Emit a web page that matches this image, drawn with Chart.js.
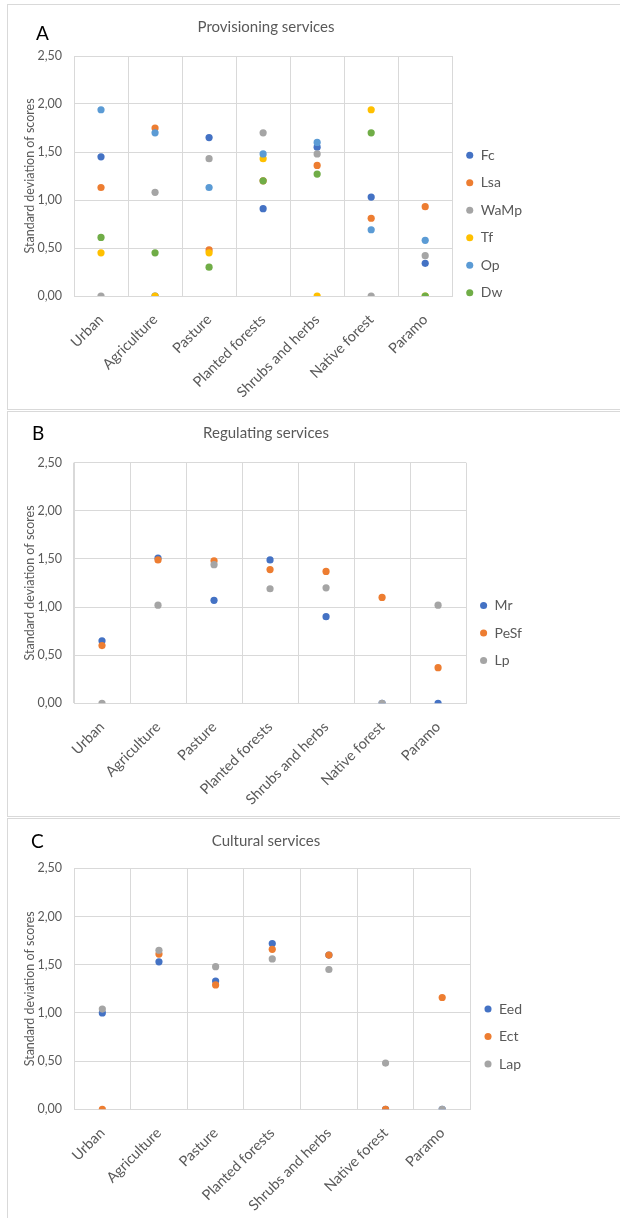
<!DOCTYPE html>
<html>
<head>
<meta charset="utf-8">
<script src="https://cdn.jsdelivr.net/npm/chart.js@4.4.1/dist/chart.umd.min.js"></script>
<style>
  body { margin: 0; background: #fff; width: 620px; height: 1218px; position: relative; overflow: hidden; font-family: Lato, sans-serif; }
  .panel { position: absolute; left: 7px; width: 700px; border: 1px solid #d9d9d9; box-sizing: border-box; }
  .tag { position: absolute; font-family: Lato, sans-serif; font-size: 19px; line-height: 19px; color: #000; }
  canvas { position: absolute; left: 0; }
</style>
</head>
<body>
<div class="panel" style="top:4px; height:406px;"></div>
<div class="panel" style="top:411px; height:406px;"></div>
<div class="panel" style="top:818px; height:500px;"></div>

<canvas id="provisioning" width="620" height="410" style="top:0px;"></canvas>
<canvas id="regulating" width="620" height="408" style="top:410px;"></canvas>
<canvas id="cultural" width="620" height="401" style="top:817px;"></canvas>

<div class="tag" style="left:36px; top:23px;">A</div>
<div class="tag" style="left:32px; top:423px;">B</div>
<div class="tag" style="left:31px; top:831px;">C</div>

<script>
const landCovers = ['Urban', 'Agriculture', 'Pasture', 'Planted forests', 'Shrubs and herbs', 'Native forest', 'Paramo'];
const yTicks = [0, 0.5, 1, 1.5, 2, 2.5];

// A - provisioning services
const fc   = [1.45, 0, 1.65, 0.91, 1.55, 1.03, 0.34];
const lsa  = [1.13, 1.75, 0.48, 1.20, 1.36, 0.81, 0.93];
const waMp = [0, 1.08, 1.43, 1.70, 1.48, 0, 0.42];
const tf   = [0.45, 0, 0.45, 1.43, 0, 1.94, 0];
const op   = [1.94, 1.70, 1.13, 1.48, 1.60, 0.69, 0.58];
const dw   = [0.61, 0.45, 0.30, 1.20, 1.27, 1.70, 0];

// B - regulating services
const mr   = [0.65, 1.51, 1.07, 1.49, 0.90, 0, 0];
const peSf = [0.60, 1.49, 1.48, 1.39, 1.37, 1.10, 0.37];
const lp   = [0, 1.02, 1.44, 1.19, 1.20, 0, 1.02];

// C - cultural services
const eed  = [1.00, 1.53, 1.33, 1.72, 1.60, 0, 0];
const ect  = [0, 1.61, 1.29, 1.66, 1.60, 0, 1.16];
const lap  = [1.04, 1.65, 1.48, 1.56, 1.45, 0.48, 0];

const BLUE = '#4472C4', ORANGE = '#ED7D31', GREY = '#A5A5A5', GOLD = '#FFC000', LIGHTBLUE = '#5B9BD5', GREEN = '#70AD47';
const GRID = '#d9d9d9';
const TEXT = '#595959';
const FONT = 'Lato';

// the legend sits in the space under the title, so push it down a little
const legendShift = {
  id: 'legendShift',
  afterLayout(chart, args, opts) {
    const legend = chart.legend;
    if (!legend) return;
    legend.top += opts.dy;
    legend.bottom += opts.dy;
  }
};

function drawPanel(id, cfg) {
  // later series get a lower order so they are painted on top
  const datasets = cfg.series.map((s, i) => ({
    label: s.name,
    data: s.values,
    backgroundColor: s.color,
    borderColor: s.color,
    borderWidth: 0,
    showLine: false,
    pointRadius: 3.6,
    pointHoverRadius: 3.6,
    pointBorderWidth: 0,
    order: cfg.series.length - i
  }));

  new Chart(document.getElementById(id), {
    type: 'line',
    data: { labels: landCovers, datasets },
    plugins: [legendShift],
    options: {
      responsive: false,
      animation: false,
      events: [],
      layout: { padding: { left: 0, right: 88, top: 0, bottom: 0 } },
      plugins: {
        legendShift: { dy: 19 },
        title: {
          display: true,
          text: cfg.title,
          color: TEXT,
          font: { family: FONT, size: 15, weight: 'normal' },
          padding: cfg.titlePad
        },
        legend: {
          position: 'right',
          labels: {
            usePointStyle: true,
            pointStyle: 'circle',
            boxWidth: 8,
            boxHeight: 5,
            padding: 13.5,
            color: TEXT,
            font: { family: FONT, size: 14 },
            sort: (a, b) => a.datasetIndex - b.datasetIndex
          }
        },
        tooltip: { enabled: false }
      },
      scales: {
        x: {
          offset: true,
          grid: { offset: true, color: GRID, drawTicks: false },
          border: { color: GRID },
          ticks: {
            color: TEXT,
            font: { family: FONT, size: 14.5 },
            minRotation: 45,
            maxRotation: 45,
            autoSkip: false,
            padding: 15
          },
          afterFit: (scale) => { scale.height = cfg.xHeight; }
        },
        y: {
          min: 0,
          max: 2.5,
          afterBuildTicks: (scale) => { scale.ticks = yTicks.map(v => ({ value: v })); },
          ticks: {
            color: TEXT,
            font: { family: FONT, size: 12.5 },
            padding: 12,
            callback: (v) => Number(v).toFixed(2).replace('.', ',')
          },
          grid: { color: GRID, drawTicks: false },
          border: { color: GRID },
          title: {
            display: true,
            text: 'Standard deviation of scores',
            color: TEXT,
            font: { family: FONT, size: 12.5 },
            padding: { top: 22, bottom: 0 }
          },
          afterFit: (scale) => { scale.width = 74; }
        }
      }
    }
  });
}

drawPanel('provisioning', {
  title: 'Provisioning services',
  titlePad: { top: 18, bottom: 20 },
  xHeight: 114,
  series: [
    { name: 'Fc', values: fc, color: BLUE },
    { name: 'Lsa', values: lsa, color: ORANGE },
    { name: 'WaMp', values: waMp, color: GREY },
    { name: 'Tf', values: tf, color: GOLD },
    { name: 'Op', values: op, color: LIGHTBLUE },
    { name: 'Dw', values: dw, color: GREEN }
  ]
});

drawPanel('regulating', {
  title: 'Regulating services',
  titlePad: { top: 14, bottom: 20.7 },
  xHeight: 114.7,
  series: [
    { name: 'Mr', values: mr, color: BLUE },
    { name: 'PeSf', values: peSf, color: ORANGE },
    { name: 'Lp', values: lp, color: GREY }
  ]
});

drawPanel('cultural', {
  title: 'Cultural services',
  titlePad: { top: 14.7, bottom: 18.6 },
  xHeight: 108.7,
  series: [
    { name: 'Eed', values: eed, color: BLUE },
    { name: 'Ect', values: ect, color: ORANGE },
    { name: 'Lap', values: lap, color: GREY }
  ]
});
</script>
</body>
</html>
